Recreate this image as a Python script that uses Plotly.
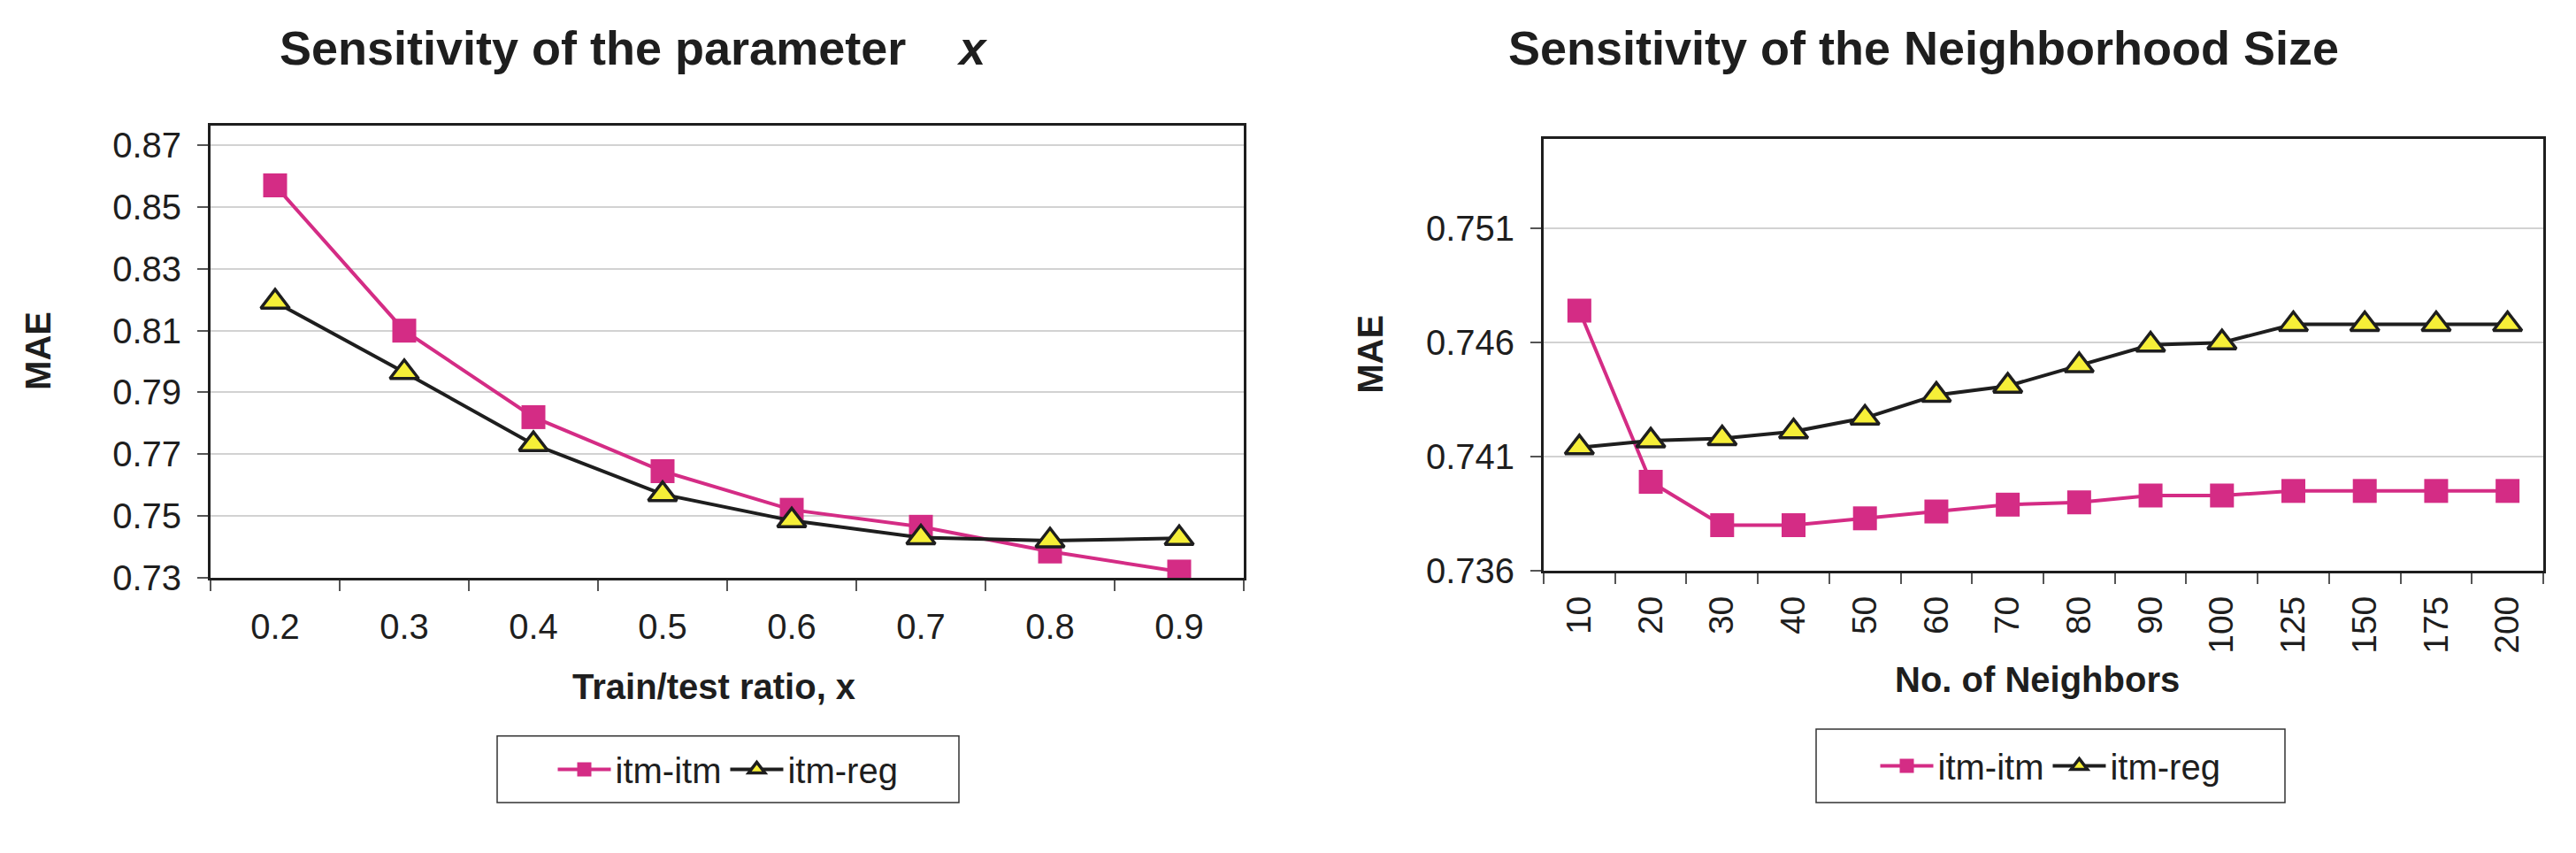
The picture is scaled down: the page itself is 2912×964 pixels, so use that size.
import plotly.graph_objects as go

# ---- data ----
ratio_labels = ["0.2", "0.3", "0.4", "0.5", "0.6", "0.7", "0.8", "0.9"]
ratio_itm_itm = [0.857, 0.810, 0.782, 0.7645, 0.752, 0.7465, 0.7385, 0.732]
ratio_itm_reg = [0.8193, 0.7965, 0.7732, 0.757, 0.7485, 0.743, 0.742, 0.7428]

neigh_labels = ["10", "20", "30", "40", "50", "60", "70", "80", "90", "100",
                "125", "150", "175", "200"]
neigh_itm_itm = [0.7474, 0.7399, 0.7380, 0.7380, 0.7383, 0.7386, 0.7389, 0.7390,
                 0.7393, 0.7393, 0.7395, 0.7395, 0.7395, 0.7395]
neigh_itm_reg = [0.7414, 0.7417, 0.7418, 0.7421, 0.7427, 0.7437, 0.7441, 0.7450,
                 0.7459, 0.7460, 0.7468, 0.7468, 0.7468, 0.7468]

series_names = ["itm-itm", "itm-reg"]
left_title = "Sensitivity of the parameter&nbsp;&nbsp;&nbsp; <i>x</i>"
right_title = "Sensitivity of the Neighborhood Size"
left_xtitle = "Train/test ratio, x"
right_xtitle = "No. of Neighbors"
ytitle = "MAE"

# ---- style ----
W, H = 2912, 964
FONT = "Liberation Sans, Arial, sans-serif"
PINK = "#D42C85"
YELLOW = "#F6EF38"
BLACK = "#1E1E1E"

def px_x(x):
    return x / W

def px_y(y):
    return 1 - y / H

fig = go.Figure()

def add_pair(labels, a, b, xa, ya, legend):
    fig.add_trace(go.Scatter(
        x=labels, y=a, name=series_names[0], mode="lines+markers",
        xaxis=xa, yaxis=ya, legend=legend,
        line=dict(color=PINK, width=4),
        marker=dict(symbol="square", size=27, color=PINK,
                    line=dict(color=PINK, width=0)),
    ))
    fig.add_trace(go.Scatter(
        x=labels, y=b, name=series_names[1], mode="lines+markers",
        xaxis=xa, yaxis=ya, legend=legend,
        line=dict(color=BLACK, width=4),
        marker=dict(symbol="triangle-up", size=28, color=YELLOW,
                    line=dict(color=BLACK, width=3.5)),
    ))

add_pair(ratio_labels, ratio_itm_itm, ratio_itm_reg, "x", "y", "legend")
add_pair(neigh_labels, neigh_itm_itm, neigh_itm_reg, "x2", "y2", "legend2")

common_x = dict(
    type="category", tickson="boundaries", ticks="outside", ticklen=12,
    tickwidth=1.5, tickcolor="#555", showline=True, mirror=True,
    linewidth=3, linecolor=BLACK, showgrid=False, zeroline=False,
    tickfont=dict(family=FONT, size=40, color=BLACK),
)
common_y = dict(
    ticks="outside", ticklen=12, tickwidth=1.5, tickcolor="#555",
    showline=True, mirror=True, linewidth=3, linecolor=BLACK,
    showgrid=True, gridcolor="#D2D2D2", gridwidth=1.5, zeroline=False,
    tickfont=dict(family=FONT, size=40, color=BLACK),
)

legend_style = dict(orientation="h", xanchor="center", yanchor="middle",
                    borderwidth=0, bgcolor="rgba(0,0,0,0)",
                    font=dict(family=FONT, size=40, color=BLACK),
                    itemwidth=60, tracegroupgap=0)

# legend boxes (pixel edges)
box_left = (554, 843, 1076, 920)
box_right = (2045, 835, 2575, 920)

fig.update_layout(
    width=W, height=H,
    margin=dict(l=0, r=0, t=0, b=0),
    paper_bgcolor="white", plot_bgcolor="white",
    font=dict(family=FONT, color=BLACK),
    xaxis=dict(common_x, domain=[px_x(230), px_x(1398)],
               range=[-0.5, len(ratio_labels) - 0.5], anchor="y",
               ticklabelstandoff=18),
    yaxis=dict(common_y, domain=[px_y(660), px_y(137)], anchor="x",
               range=[0.73, 0.8764], tick0=0.73, dtick=0.02,
               tickformat=".2f", ticklabelstandoff=10),
    xaxis2=dict(common_x, domain=[px_x(1737), px_x(2867)],
                range=[-0.5, len(neigh_labels) - 0.5], anchor="y2",
                tickangle=-90, ticklabelstandoff=10,
                tickfont=dict(family=FONT, size=39, color=BLACK)),
    yaxis2=dict(common_y, domain=[px_y(652), px_y(152)], anchor="x2",
                range=[0.736, 0.75494], tick0=0.736, dtick=0.005,
                tickformat=".3f", ticklabelstandoff=10),
    legend=dict(legend_style,
                x=px_x((box_left[0] + box_left[2]) / 2),
                y=px_y((box_left[1] + box_left[3]) / 2)),
    legend2=dict(legend_style,
                 x=px_x((box_right[0] + box_right[2]) / 2),
                 y=px_y((box_right[1] + box_right[3]) / 2)),
    showlegend=True,
)

shapes = []
for b in (box_left, box_right):
    shapes.append(dict(type="rect", xref="paper", yref="paper",
                       x0=px_x(b[0]), x1=px_x(b[2]),
                       y0=px_y(b[3]), y1=px_y(b[1]),
                       line=dict(color="#333", width=1.5),
                       fillcolor="rgba(0,0,0,0)", layer="below"))
fig.update_layout(shapes=shapes)

ann = []
ann.append(dict(text="<b>" + left_title + "</b>", x=px_x(708), y=px_y(47),
                font=dict(family=FONT, size=54, color=BLACK)))
ann.append(dict(text="<b>" + right_title + "</b>", x=px_x(2166), y=px_y(47),
                font=dict(family=FONT, size=54, color=BLACK)))
ann.append(dict(text="<b>" + left_xtitle + "</b>", x=px_x(799), y=px_y(786),
                font=dict(family=FONT, size=40, color=BLACK)))
ann.append(dict(text="<b>" + right_xtitle + "</b>", x=px_x(2295), y=px_y(778),
                font=dict(family=FONT, size=40, color=BLACK)))
ann.append(dict(text="<b>" + ytitle + "</b>", x=px_x(35), y=px_y(398),
                textangle=-90, font=dict(family=FONT, size=40, color=BLACK)))
ann.append(dict(text="<b>" + ytitle + "</b>", x=px_x(1541), y=px_y(402),
                textangle=-90, font=dict(family=FONT, size=40, color=BLACK)))
for a in ann:
    a.update(xref="paper", yref="paper", showarrow=False,
             xanchor="center", yanchor="middle")
fig.update_layout(annotations=ann)

fig.write_html("out.html")
